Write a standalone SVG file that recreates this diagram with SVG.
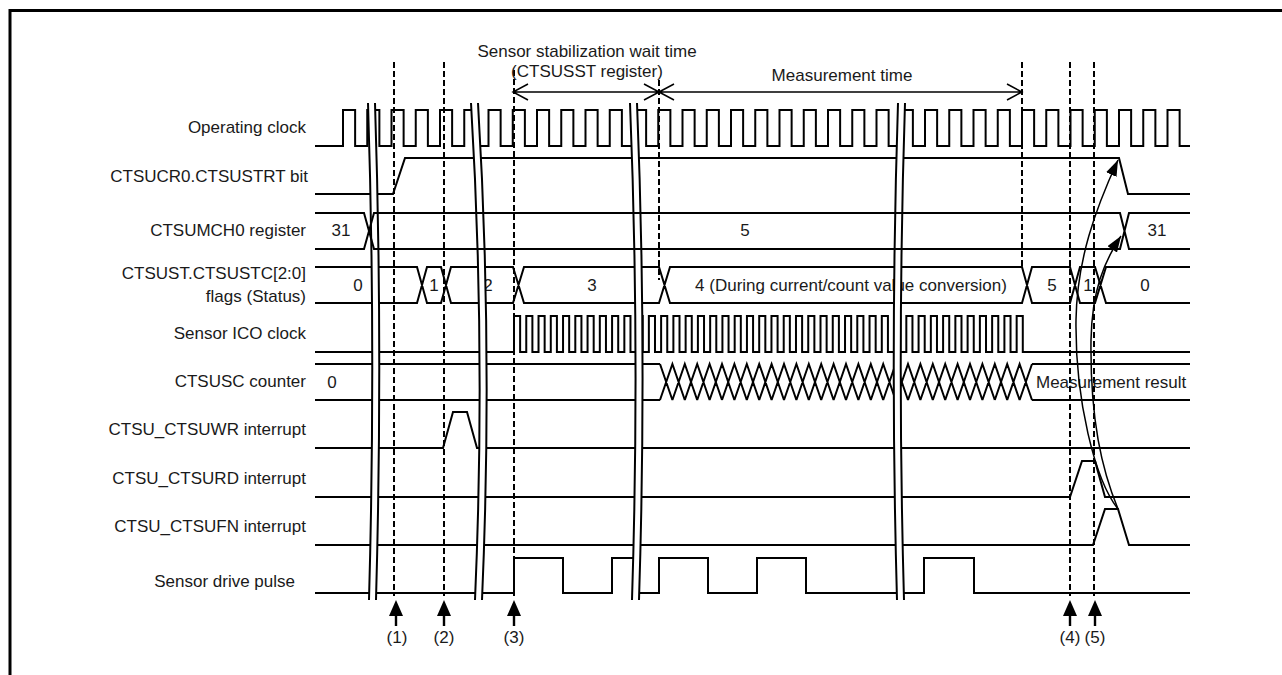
<svg xmlns="http://www.w3.org/2000/svg" width="1282" height="675" viewBox="0 0 1282 675">
<style>
text{font-family:"Liberation Sans",Arial,sans-serif;font-size:17px;fill:#1a1a1a}
.lbl{text-anchor:end}
.mid{text-anchor:middle}
.sig{fill:none;stroke:#000;stroke-width:2;stroke-linejoin:miter}
.thin{fill:none;stroke:#000;stroke-width:1.5}
.dash{fill:none;stroke:#000;stroke-width:2;stroke-dasharray:6 3}
.brk{fill:#fff;stroke:none}
.brkl{fill:none;stroke:#000;stroke-width:2}
</style>
<defs>
<marker id="ah" markerUnits="userSpaceOnUse" markerWidth="16" markerHeight="12" viewBox="0 0 14 10" refX="14" refY="5" orient="auto">
<path d="M0,0L14,5L0,10z" fill="#000"/>
</marker>
<path id="up" d="M0,0L-7,16H-1.2V26H1.2V16H7z"/>
</defs>
<rect width="1282" height="675" fill="#fff"/>
<path d="M10,675V10.5H1282" fill="none" stroke="#000" stroke-width="3"/>

<g id="labels">
<text class="lbl" x="306" y="133">Operating clock</text>
<text class="lbl" x="308" y="182">CTSUCR0.CTSUSTRT bit</text>
<text class="lbl" x="306" y="236">CTSUMCH0 register</text>
<text class="lbl" x="306" y="279">CTSUST.CTSUSTC[2:0]</text>
<text class="lbl" x="306" y="302">flags (Status)</text>
<text class="lbl" x="306" y="339">Sensor ICO clock</text>
<text class="lbl" x="306" y="387">CTSUSC counter</text>
<text class="lbl" x="306" y="435">CTSU_CTSUWR interrupt</text>
<text class="lbl" x="306" y="484">CTSU_CTSURD interrupt</text>
<text class="lbl" x="306" y="532">CTSU_CTSUFN interrupt</text>
<text class="lbl" x="295" y="587">Sensor drive pulse</text>
</g>

<g id="timing-markers">
<path class="dash" d="M394,62V596M444,62V596M514,70V596M659,80V280M1022,62V267M1070,62V596M1094,62V596"/>
<path class="thin" d="M513,92H1022M528,84L513,92L528,100M644,84L674,100M644,100L674,84M1007,84L1022,92L1007,100"/>
<text class="mid" x="587" y="57">Sensor stabilization wait time</text>
<text class="mid" x="587" y="77">(CTSUSST register)</text>
<text class="mid" x="842" y="81">Measurement time</text>
</g>

<g id="operating-clock">
<path class="sig" d="M315,146H343
v-36h12.125v36h12.125v-36h12.125v36h12.125v-36h12.125v36h12.125v-36h12.125v36h12.125v-36h12.125v36h12.125
v-36h12.125v36h12.125v-36h12.125v36h12.125v-36h12.125v36h12.125v-36h12.125v36h12.125v-36h12.125v36h12.125
v-36h12.125v36h12.125v-36h12.125v36h12.125v-36h12.125v36h12.125v-36h12.125v36h12.125v-36h12.125v36h12.125
v-36h12.125v36h12.125v-36h12.125v36h12.125v-36h12.125v36h12.125v-36h12.125v36h12.125v-36h12.125v36h12.125
v-36h12.125v36h12.125v-36h12.125v36h12.125v-36h12.125v36h12.125v-36h12.125v36h12.125v-36h12.125v36h12.125
v-36h12.125v36h12.125v-36h12.125v36h12.125v-36h12.125v36h12.125v-36h12.125v36h12.125v-36h12.125v36h12.125
v-36h12.125v36h12.125v-36h12.125v36h12.125v-36h12.125v36h12.125v-36h12.125v36h12.125
v-36h12.125v36H1190"/>
</g>

<g id="ctsustrt">
<path class="sig" d="M315,194H393L405,158H1119L1128,194H1190"/>
</g>

<g id="ctsust-status">
<path class="sig" d="M315,267H417L427,303H441L451,267H513L524,303H659L670,267H1022L1032,303H1070L1080,267H1095L1106,303H1190M315,303H417L427,267H441L451,303H513L524,267H659L670,303H1022L1032,267H1070L1080,303H1095L1106,267H1190"/>
<text class="mid" x="358" y="291">0</text>
<text class="mid" x="434" y="291">1</text>
<text class="mid" x="488" y="291">2</text>
<text class="mid" x="592" y="291">3</text>
<text class="mid" x="851" y="291">4 (During current/count value conversion)</text>
<text class="mid" x="1052" y="291">5</text>
<text class="mid" x="1088" y="291">1</text>
<text class="mid" x="1145" y="291">0</text>
</g>

<g id="sensor-ico-clock">
<path class="sig" d="M315,352H514
v-36h6.13v36h6.13v-36h6.13v36h6.13v-36h6.13v36h6.13v-36h6.13v36h6.13v-36h6.13v36h6.13v-36h6.13v36h6.13
v-36h6.13v36h6.13v-36h6.13v36h6.13v-36h6.13v36h6.13v-36h6.13v36h6.13v-36h6.13v36h6.13v-36h6.13v36h6.13
v-36h6.13v36h6.13v-36h6.13v36h6.13v-36h6.13v36h6.13v-36h6.13v36h6.13v-36h6.13v36h6.13v-36h6.13v36h6.13
v-36h6.13v36h6.13v-36h6.13v36h6.13v-36h6.13v36h6.13v-36h6.13v36h6.13v-36h6.13v36h6.13v-36h6.13v36h6.13
v-36h6.13v36h6.13v-36h6.13v36h6.13v-36h6.13v36h6.13v-36h6.13v36h6.13v-36h6.13v36h6.13v-36h6.13v36h6.13
v-36h6.13v36h6.13v-36h6.13v36h6.13v-36h6.13v36h6.13v-36h6.13v36h6.13v-36h6.13v36h6.13v-36h6.13v36h6.13
v-36h6.13v36h6.13v-36h6.13v36h6.13v-36h6.13v36h6.13v-36h6.13v36h6.13v-36h6.13v36h6.13v-36h6.13v36h6.13
H1190"/>
</g>

<g id="ctsusc-counter">
<path class="sig" d="M315,364H660M315,400H660M660,364
l12.4,36m-12.4,0l12.4,-36l12.4,36m-12.4,0l12.4,-36l12.4,36m-12.4,0l12.4,-36l12.4,36m-12.4,0l12.4,-36l12.4,36m-12.4,0l12.4,-36
l12.4,36m-12.4,0l12.4,-36l12.4,36m-12.4,0l12.4,-36l12.4,36m-12.4,0l12.4,-36l12.4,36m-12.4,0l12.4,-36l12.4,36m-12.4,0l12.4,-36
l12.4,36m-12.4,0l12.4,-36l12.4,36m-12.4,0l12.4,-36l12.4,36m-12.4,0l12.4,-36l12.4,36m-12.4,0l12.4,-36l12.4,36m-12.4,0l12.4,-36
l12.4,36m-12.4,0l12.4,-36l12.4,36m-12.4,0l12.4,-36l12.4,36m-12.4,0l12.4,-36l12.4,36m-12.4,0l12.4,-36l12.4,36m-12.4,0l12.4,-36
l12.4,36m-12.4,0l12.4,-36l12.4,36m-12.4,0l12.4,-36l12.4,36m-12.4,0l12.4,-36l12.4,36m-12.4,0l12.4,-36l12.4,36m-12.4,0l12.4,-36
l12.4,36m-12.4,0l12.4,-36l12.4,36m-12.4,0l12.4,-36l12.4,36m-12.4,0l12.4,-36l12.4,36m-12.4,0l12.4,-36l12.4,36m-12.4,0l12.4,-36
M1032,364H1190M1032,400H1190"/>
<text class="mid" x="332" y="388">0</text>
<text x="1036" y="388">Measurement result</text>
</g>

<g id="ctsuwr-interrupt">
<path class="sig" d="M315,448H443L453,412H467L477,448H1190"/>
</g>
<g id="ctsurd-interrupt">
<path class="sig" d="M315,497H1070L1082,461H1095L1105,497H1190"/>
</g>
<g id="ctsufn-interrupt">
<path class="sig" d="M315,545H1093L1105,509H1118L1129,545H1190"/>
</g>
<g id="sensor-drive-pulse">
<path class="sig" d="M315,593H514V558H563V593H612V558H636M636,593H659V558H708V593H757V558H806V593H924V558H974V593H1190"/>
</g>

<g id="breaks">
<path class="brk" d="M368,103Q376,350 369,600L376,600Q383,350 375,103Z"/>
<path class="brkl" d="M368,103Q376,350 369,600M375,103Q383,350 376,600"/>
<path class="brk" d="M471,103Q486,350 475,600L482,600Q493,350 478,103Z"/>
<path class="brkl" d="M471,103Q486,350 475,600M478,103Q493,350 482,600"/>
<path class="brk" d="M630,103Q640,350 632,600L639,600Q647,350 637,103Z"/>
<path class="brkl" d="M630,103Q640,350 632,600M637,103Q647,350 639,600"/>
<path class="brk" d="M898,103Q890,350 897,600L904,600Q897,350 905,103Z"/>
<path class="brkl" d="M898,103Q890,350 897,600M905,103Q897,350 904,600"/>
</g>

<g id="ctsumch0-register">
<path class="sig" d="M315,213H364L374,249H1120L1129,213H1190M315,249H364L374,213H1120L1129,249H1190"/>
<text class="mid" x="341" y="236">31</text>
<text class="mid" x="745" y="236">5</text>
<text class="mid" x="1157" y="236">31</text>
</g>

<g id="connectors">
<path class="thin" marker-end="url(#ah)" d="M1118,509C1095,480 1075,400 1076,320C1077,260 1095,210 1118,160"/>
<path class="thin" marker-end="url(#ah)" d="M1118,509C1102,470 1090,420 1091,340C1092,290 1104,262 1121,236"/>
</g>

<g id="events">
<use href="#up" x="396" y="600"/>
<use href="#up" x="444" y="600"/>
<use href="#up" x="514" y="600"/>
<use href="#up" x="1070" y="600"/>
<use href="#up" x="1095" y="600"/>
<text class="mid" x="397" y="643">(1)</text>
<text class="mid" x="444" y="643">(2)</text>
<text class="mid" x="514" y="643">(3)</text>
<text class="mid" x="1070" y="643">(4)</text>
<text class="mid" x="1095" y="643">(5)</text>
</g>
</svg>
